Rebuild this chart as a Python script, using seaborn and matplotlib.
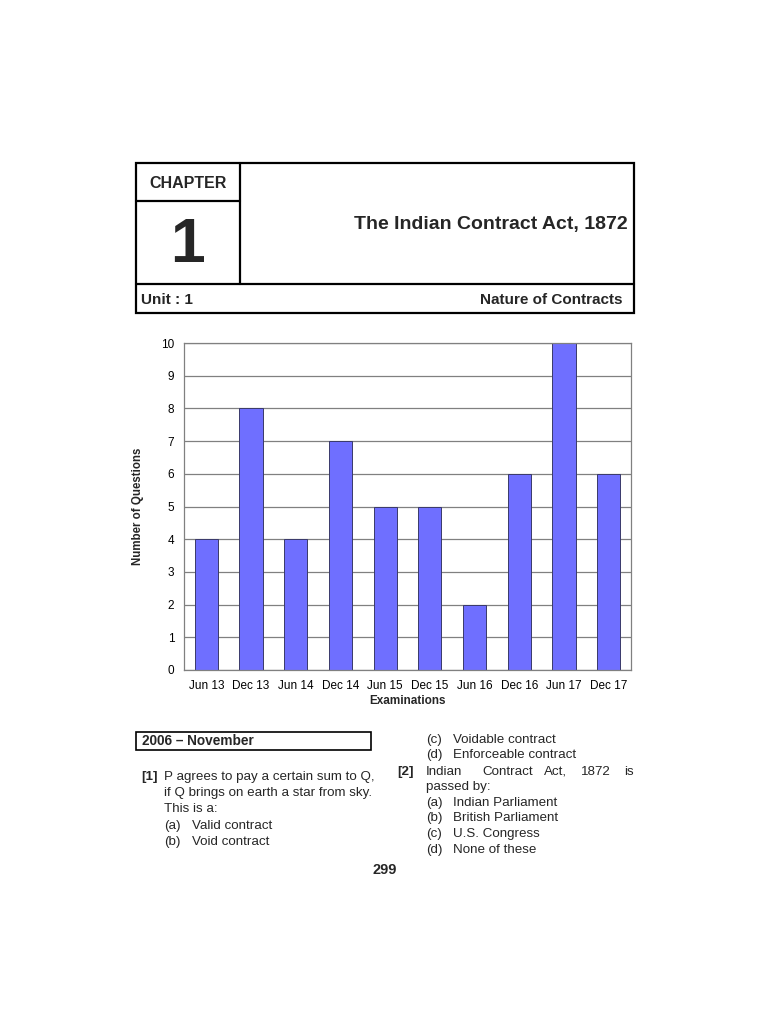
import matplotlib
matplotlib.use("Agg")
import matplotlib.pyplot as plt
import seaborn as sns
import pandas as pd
from matplotlib.lines import Line2D
from matplotlib.patches import Rectangle

exams = ["Jun 13", "Dec 13", "Jun 14", "Dec 14", "Jun 15",
         "Dec 15", "Jun 16", "Dec 16", "Jun 17", "Dec 17"]
questions = [4, 8, 4, 7, 5, 5, 2, 6, 10, 6]
y_ticks = [0, 1, 2, 3, 4, 5, 6, 7, 8, 9, 10]

sns.set_theme(style="white")
plt.rcParams['font.family'] = ['Liberation Sans', 'DejaVu Sans']

W, H = 770, 1024
fig = plt.figure(figsize=(W / 100, H / 100), dpi=100)
fig.patch.set_facecolor("white")

# --- page overlay in pixel coordinates
page = fig.add_axes([0, 0, 1, 1])
page.set_xlim(0, W)
page.set_ylim(H, 0)
page.axis("off")

def line(x0, y0, x1, y1, lw=1.6):
    page.add_line(Line2D([x0, x1], [y0, y1], color="black", lw=lw))

# header box
page.add_patch(Rectangle((136, 163), 498, 150, fill=False, ec="black", lw=1.6))
line(240, 163, 240, 284)
line(136, 201, 240, 201)
line(136, 284, 634, 284)

page.text(188, 183, "CHAPTER", ha="center", va="center", fontsize=11.5, fontweight="bold")
page.text(188, 245, "1", ha="center", va="center", fontsize=45, fontweight="bold")
page.text(628, 225, "The Indian Contract Act, 1872", ha="right", va="center",
          fontsize=14, fontweight="bold")
page.text(141, 300, "Unit : 1", ha="left", va="center", fontsize=11, fontweight="bold")
page.text(623, 300, "Nature of Contracts", ha="right", va="center", fontsize=11, fontweight="bold")

# --- chart
ax = fig.add_axes([184 / W, 1 - 670 / H, (631 - 184) / W, (670 - 343) / H])
df = pd.DataFrame({"Examinations": exams, "Questions": questions})
sns.barplot(data=df, x="Examinations", y="Questions", ax=ax, color="#6f6fff",
            width=0.52, edgecolor="#3a3a6a", linewidth=0.7, saturation=1)
ax.set_ylim(0, 10)
ax.set_yticks(y_ticks)
ax.set_xlim(-0.5, len(exams) - 0.5)
ax.grid(axis="y", color="#808080", lw=0.9)
ax.set_axisbelow(True)
for s in ax.spines.values():
    s.set_color("#808080")
    s.set_linewidth(0.9)
ax.tick_params(axis="both", which="major", direction="out", length=4,
               width=0.9, labelsize=8.5, pad=3, labelcolor="black", color="#808080")
ax.set_ylabel("Number of Questions", fontsize=8.3, fontweight="bold", labelpad=12)
ax.set_xlabel("Examinations", fontsize=8.5, fontweight="bold", labelpad=2)

# --- text below chart
page.add_patch(Rectangle((136, 732), 235, 18, fill=False, ec="black", lw=1.2))
page.text(142, 741, "2006 – November", ha="left", va="center", fontsize=9.8, fontweight="bold")

fs = 9.6
page.text(141, 777, "[1]", ha="left", va="center", fontsize=fs, fontweight="bold")
left_lines = [
    (164, 777, "P agrees to pay a certain sum to Q,"),
    (164, 793, "if Q brings on earth a star from sky."),
    (164, 809, "This is a:"),
]
for x, y, t in left_lines:
    page.text(x, y, t, ha="left", va="center", fontsize=fs)
opts_left = [(826, "(a)", "Valid contract"), (842, "(b)", "Void contract")]
for y, a, t in opts_left:
    page.text(164, y, a, ha="left", va="center", fontsize=fs)
    page.text(192, y, t, ha="left", va="center", fontsize=fs)

opts_right1 = [(740, "(c)", "Voidable contract"), (755, "(d)", "Enforceable contract")]
for y, a, t in opts_right1:
    page.text(426, y, a, ha="left", va="center", fontsize=fs)
    page.text(453, y, t, ha="left", va="center", fontsize=fs)
page.text(397, 772, "[2]", ha="left", va="center", fontsize=fs, fontweight="bold")
for x, w in [(426, "Indian"), (482, "Contract"), (544, "Act,"), (581, "1872")]:
    page.text(x, 772, w, ha="left", va="center", fontsize=fs)
page.text(634, 772, "is", ha="right", va="center", fontsize=fs)
page.text(426, 787, "passed by:", ha="left", va="center", fontsize=fs)
opts_right2 = [(803, "(a)", "Indian Parliament"), (818, "(b)", "British Parliament"),
               (834, "(c)", "U.S. Congress"), (850, "(d)", "None of these")]
for y, a, t in opts_right2:
    page.text(426, y, a, ha="left", va="center", fontsize=fs)
    page.text(453, y, t, ha="left", va="center", fontsize=fs)

page.text(385, 870, "299", ha="center", va="center", fontsize=10.5, fontweight="bold")

fig.savefig("out.png", dpi=100)
